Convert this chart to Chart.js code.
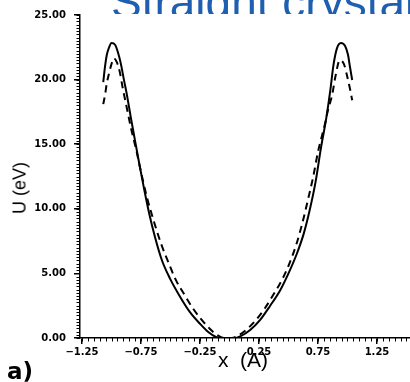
<!DOCTYPE html>
<html>
<head>
<meta charset="utf-8">
<script src="https://cdn.jsdelivr.net/npm/chart.js@4.4.1/dist/chart.umd.min.js"></script>
<style>
  html, body { margin: 0; padding: 0; background: #fff; }
  #wrap { position: relative; width: 410px; height: 382px; overflow: hidden; }
  canvas { position: absolute; left: 0; top: 0; }
  .txt { position: absolute; white-space: pre; color: #000; line-height: 1; }
  #titleClip { position: absolute; left: 0; top: 0; width: 410px; height: 14px; overflow: hidden; }
  #title { left: 111px; top: -25px; font: 46px "Liberation Sans", Arial, sans-serif; color: #1f5fb2; }
  #ylab { left: 20px; top: 188px; font: 18px "Liberation Sans", Arial, sans-serif;
          transform: translate(-50%, -50%) rotate(-90deg); }
  #xlab { left: 243px; top: 360px; font: 21px "Liberation Sans", Arial, sans-serif;
          transform: translate(-50%, -50%); }
  #panel { left: 7px; top: 358px; font: bold 23px "DejaVu Sans", sans-serif; }
</style>
</head>
<body>
<div id="wrap">
  <canvas id="c" width="410" height="382"></canvas>
  <div id="titleClip"><div class="txt" id="title">Straight crystal</div></div>
  <div class="txt" id="ylab">U (eV)</div>
  <div class="txt" id="xlab">x  (A)</div>
  <div class="txt" id="panel">a)</div>
</div>
<script>
// Tick values
const xTicks = [-1.25, -0.75, -0.25, 0.25, 0.75, 1.25];
const yTicks = [0, 5, 10, 15, 20, 25];

// Solid curve
const xSolid = [-1.07, -1.055, -1.04, -1.02, -1.00, -0.97, -0.945, -0.92, -0.895, -0.869,
  -0.835, -0.801, -0.767, -0.725, -0.682, -0.631, -0.572, -0.504, -0.419, -0.335, -0.25,
  -0.18, -0.115, -0.065, -0.015, 0.04, 0.095, 0.175, 0.26, 0.345, 0.43,
  0.505, 0.57, 0.63, 0.68, 0.73, 0.775, 0.82, 0.855, 0.88, 0.91,
  0.945, 0.98, 1.005, 1.02, 1.04];
const uSolid = [19.8, 21.0, 21.9, 22.5, 22.83, 22.7, 22.1, 21.2, 20.0, 18.8,
  17.0, 15.3, 13.6, 11.6, 9.7, 7.8, 6.0, 4.6, 3.2, 2.0, 1.1,
  0.46, 0.08, 0, 0, 0, 0.15, 0.62, 1.4, 2.5, 3.7,
  5.1, 6.5, 8.1, 9.9, 12.1, 14.7, 17.0, 19.2, 21.05, 22.4,
  22.83, 22.6, 21.9, 21.05, 19.97];

// Dashed curve
const xDashed = [-1.07, -1.055, -1.04, -1.015, -0.995, -0.98, -0.955, -0.93, -0.905, -0.87,
  -0.835, -0.79, -0.75, -0.70, -0.64, -0.58, -0.52, -0.455, -0.385, -0.31,
  -0.235, -0.165, -0.105, -0.045, 0.02, 0.08, 0.15, 0.225, 0.30, 0.375,
  0.445, 0.505, 0.565, 0.615, 0.665, 0.71, 0.75, 0.81, 0.835, 0.87,
  0.895, 0.935, 0.97, 0.995, 1.02, 1.04];
const uDashed = [18.1, 18.8, 19.7, 20.7, 21.35, 21.65, 21.35, 20.6, 19.35, 17.8,
  16.25, 14.55, 12.85, 10.9, 9.0, 7.3, 5.9, 4.5, 3.4, 2.3,
  1.4, 0.7, 0.23, 0, 0, 0.23, 0.7, 1.4, 2.3, 3.4,
  4.5, 5.7, 7.2, 8.8, 10.7, 12.5, 14.4, 16.6, 17.65, 18.8,
  20.1, 21.5, 21.2, 20.35, 19.35, 18.4];

const X_MIN = -1.267, X_MAX = 1.53, Y_MIN = 0, Y_MAX = 25;
const X_MINOR = 0.05, Y_MINOR = 0.25;

const toPts = (xs, ys) => xs.map((x, i) => ({ x: x, y: ys[i] }));

const minorTicks = {
  id: 'minorTicks',
  afterDraw(chart) {
    const ctx = chart.ctx;
    const xs = chart.scales.x, ys = chart.scales.y;
    const area = chart.chartArea;
    ctx.save();
    ctx.strokeStyle = '#000';
    ctx.lineWidth = 1;
    ctx.beginPath();
    for (let k = Math.ceil(X_MIN / X_MINOR); k * X_MINOR <= X_MAX; k++) {
      const px = Math.round(xs.getPixelForValue(k * X_MINOR)) + 0.5;
      ctx.moveTo(px, area.bottom);
      ctx.lineTo(px, area.bottom + 3.5);
    }
    for (let k = 0; k * Y_MINOR <= Y_MAX + 1e-9; k++) {
      const py = Math.round(ys.getPixelForValue(k * Y_MINOR)) + 0.5;
      ctx.moveTo(area.left, py);
      ctx.lineTo(area.left - 3.5, py);
    }
    ctx.stroke();
    ctx.restore();
  }
};

const tickFont = { family: '"DejaVu Sans", sans-serif', size: 10, weight: 'bold' };
const fmt = v => Number(v).toFixed(2).replace('-', '\u2212');

new Chart(document.getElementById('c'), {
  type: 'scatter',
  data: {
    datasets: [
      {
        data: toPts(xSolid, uSolid),
        showLine: true,
        borderColor: '#000',
        borderWidth: 2,
        pointRadius: 0,
        cubicInterpolationMode: 'monotone',
        fill: false
      },
      {
        data: toPts(xDashed, uDashed),
        showLine: true,
        borderColor: '#000',
        borderWidth: 2,
        borderDash: [7, 5],
        pointRadius: 0,
        cubicInterpolationMode: 'monotone',
        fill: false
      }
    ]
  },
  options: {
    responsive: false,
    animation: false,
    devicePixelRatio: 1,
    layout: { padding: { left: 0, right: 0, top: 15, bottom: 0 } },
    plugins: { legend: { display: false }, tooltip: { enabled: false } },
    scales: {
      x: {
        type: 'linear',
        min: X_MIN, max: X_MAX,
        afterBuildTicks: s => { s.ticks = xTicks.map(v => ({ value: v })); },
        afterFit: s => { s.height = 44; },
        grid: { display: true, drawOnChartArea: false, drawTicks: true, tickLength: 6, color: '#000', lineWidth: 1.5 },
        border: { display: true, color: '#000', width: 1.5 },
        ticks: { color: '#000', font: tickFont, padding: 2, maxRotation: 0, autoSkip: false, callback: v => fmt(v) }
      },
      y: {
        type: 'linear',
        min: Y_MIN, max: Y_MAX,
        afterBuildTicks: s => { s.ticks = yTicks.map(v => ({ value: v })); },
        afterFit: s => { s.width = 80; },
        grid: { display: true, drawOnChartArea: false, drawTicks: true, tickLength: 6, color: '#000', lineWidth: 1.5 },
        border: { display: true, color: '#000', width: 1.5 },
        ticks: { color: '#000', font: tickFont, padding: 8, autoSkip: false, callback: v => fmt(v) }
      }
    }
  },
  plugins: [minorTicks]
});
</script>
</body>
</html>
